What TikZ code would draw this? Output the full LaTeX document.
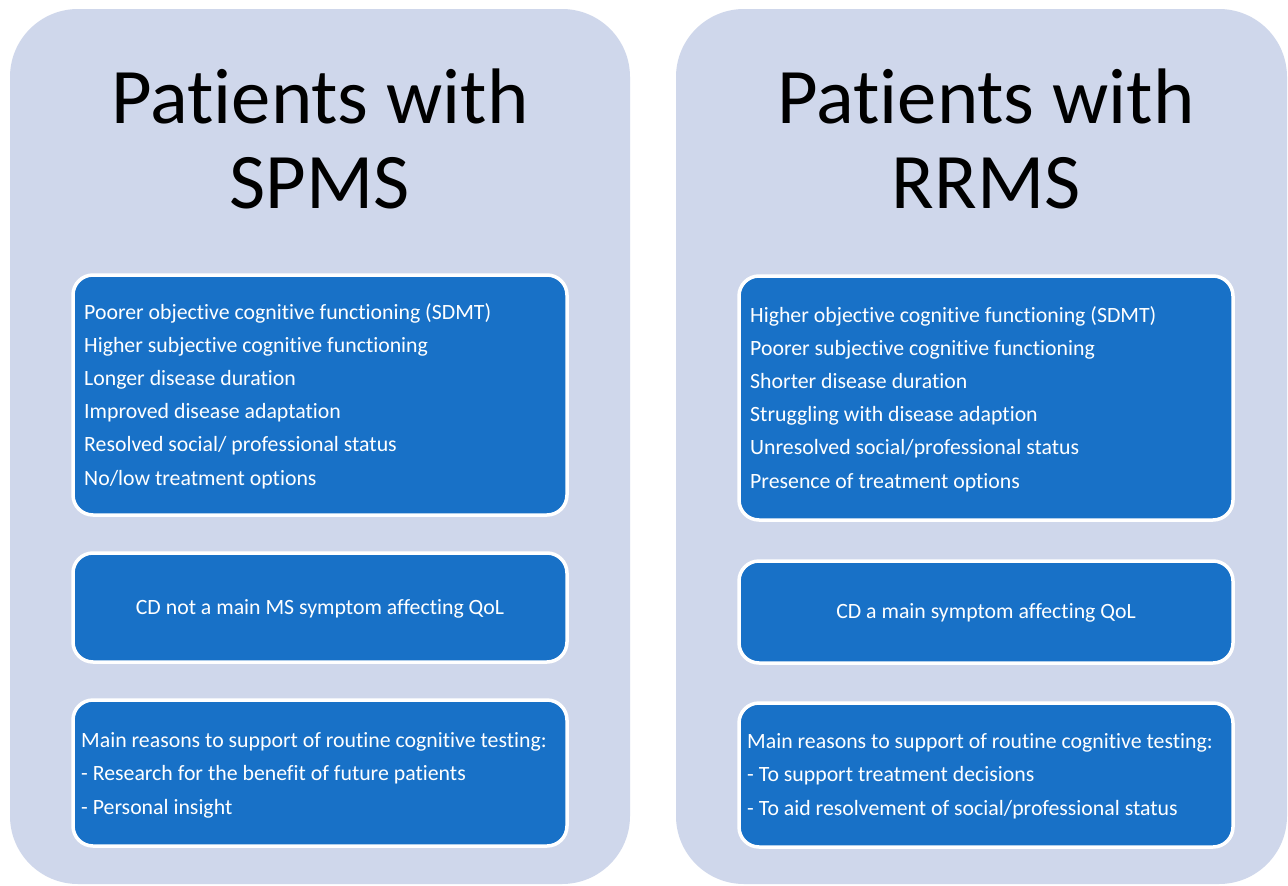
\documentclass[tikz,border=0pt]{standalone}
\usepackage{fontspec}
\setmainfont[Ligatures=NoCommon]{Carlito}
\definecolor{panel}{RGB}{207,215,235}
\definecolor{boxblue}{RGB}{24,113,199}
\begin{document}
\begin{tikzpicture}[x=1pt,y=-1pt,
  panelbox/.style={fill=panel,draw=none,rounded corners=68pt},
  bluebox/.style={fill=boxblue,draw=white,line width=3.5pt,rounded corners=20pt},
  title/.style={font=\fontsize{78.7}{85}\selectfont,align=center,text=black,inner sep=0pt},
  body/.style={font=\fontsize{21.8}{33.2}\selectfont,align=left,text=white,inner sep=0pt,anchor=base west},
  mid/.style={font=\fontsize{21.8}{33.2}\selectfont,align=center,text=white,inner sep=0pt}]
\useasboundingbox (0,0) rectangle (1288,886);
\fill[white] (0,0) rectangle (1288,886);
% panels
\path[panelbox] (10,9) rectangle (630,884);
\path[panelbox] (676,9) rectangle (1287,884);
% left boxes
\path[bluebox] (73,275) rectangle (567,515);
\path[bluebox] (73,553) rectangle (567,662);
\path[bluebox] (73,700) rectangle (567,846);
% right boxes
\path[bluebox] (739,276) rectangle (1233,520);
\path[bluebox] (739,561) rectangle (1233,663);
\path[bluebox] (739,703) rectangle (1233,847);
% titles
\node[title] (t1) at (320,139) {Patients with\\SPMS};
\node[title] (t2) at (986,139) {Patients with\\RRMS};
% left texts (anchor = baseline of last line)
\node[body] (l1) at (84,485) {Poorer objective cognitive functioning (SDMT)\\Higher subjective cognitive functioning\\Longer disease duration\\Improved disease adaptation\\Resolved social/ professional status\\No/low treatment options};
\node[mid] (l2) at (320,609) {CD not a main MS symptom affecting QoL};
\node[body] (l3) at (81,814) {Main reasons to support of routine cognitive testing:\\- Research for the benefit of future patients\\- Personal insight};
% right texts
\node[body] (r1) at (750,488) {Higher objective cognitive functioning (SDMT)\\Poorer subjective cognitive functioning\\Shorter disease duration\\Struggling with disease adaption\\Unresolved social/professional status\\Presence of treatment options};
\node[mid] (r2) at (986,613) {CD a main symptom affecting QoL};
\node[body] (r3) at (747,815) {Main reasons to support of routine cognitive testing:\\- To support treatment decisions\\- To aid resolvement of social/professional status};
\end{tikzpicture}
\end{document}
